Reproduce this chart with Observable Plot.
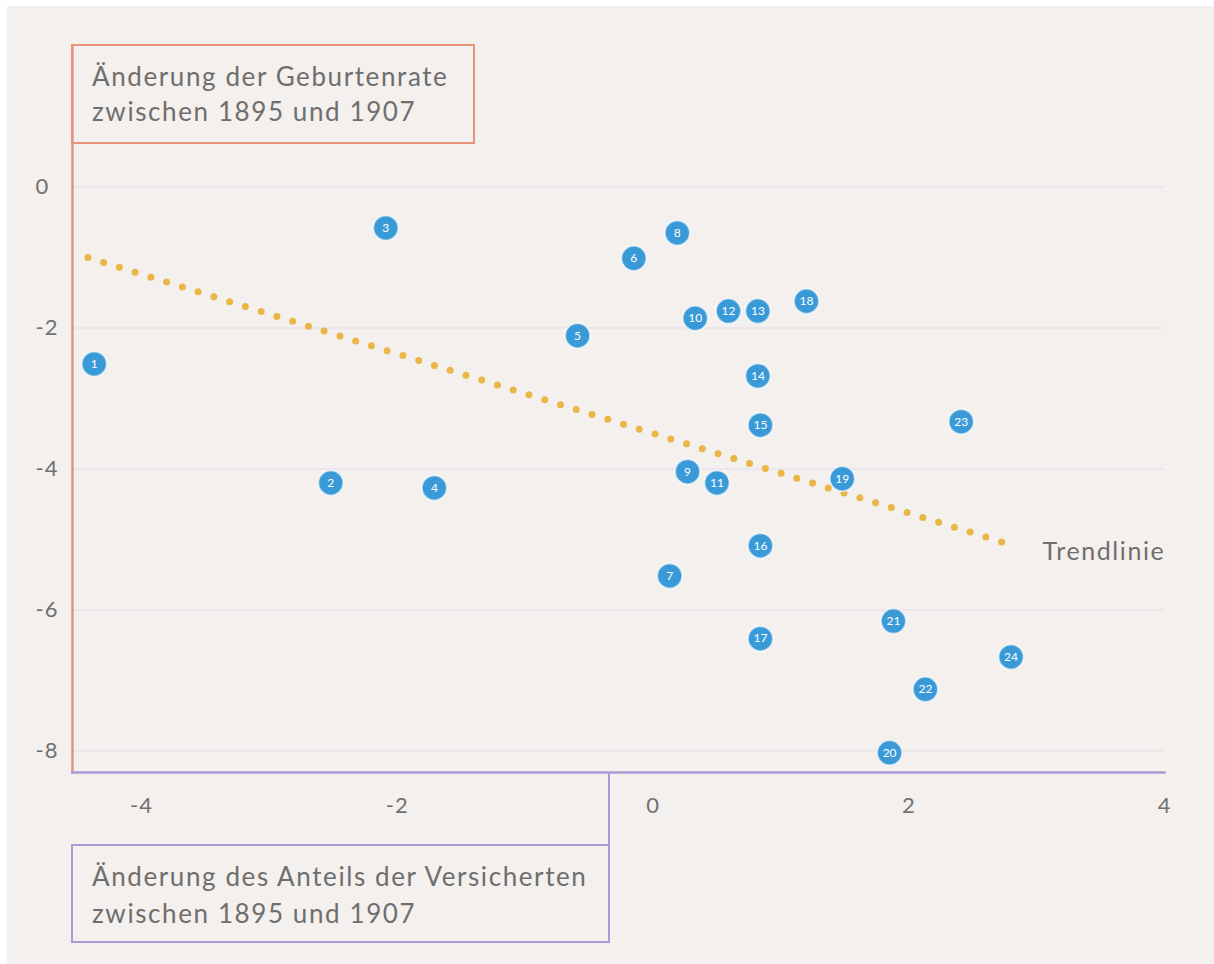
<!DOCTYPE html>
<html>
<head>
<meta charset="utf-8">
<script src="https://cdn.jsdelivr.net/npm/d3@7"></script>
<script src="https://cdn.jsdelivr.net/npm/@observablehq/plot@0.6"></script>
<style>
  html, body { margin: 0; padding: 0; background: #f4f0ed; }
  #wrap { position: absolute; left: 0; top: 0; width: 1214px; height: 964px; overflow: hidden; font-family: Lato, "Open Sans", sans-serif; }
  #wtop { position: absolute; left: 0; top: 0; width: 1214px; height: 6px; background: #ffffff; }
  #wleft { position: absolute; left: 0; top: 0; width: 7px; height: 964px; background: #ffffff; }
  #chart { position: absolute; left: 0; top: 0; }
  .box { position: absolute; box-sizing: border-box; color: #6e6e6e; font-size: 26px; letter-spacing: 1.6px; padding-left: 19px; white-space: nowrap; }
  #ybox { left: 71px; top: 44px; width: 404px; height: 100px; border: 2px solid #e8937c; line-height: 35px; padding-top: 13px; }
  #xbox { left: 71px; top: 844px; width: 539px; height: 99px; border: 2px solid #a79cd6; line-height: 37px; padding-top: 12px; }
  #xconn { position: absolute; left: 608px; top: 772px; width: 2px; height: 73px; background: #a79cd6; }
  #chart text { letter-spacing: 1px; }
</style>
</head>
<body>
<div id="wrap">
  <div id="wtop"></div>
  <div id="wleft"></div>
  <div id="chart"></div>
  <div id="xconn"></div>
  <div class="box" id="ybox">Änderung der Geburtenrate<br>zwischen 1895 und 1907</div>
  <div class="box" id="xbox">Änderung des Anteils der Versicherten<br>zwischen 1895 und 1907</div>
</div>
<script>
// Data
const ids = [1, 2, 3, 4, 5, 6, 7, 8, 9, 10, 11, 12, 13, 14, 15, 16, 17, 18, 19, 20, 21, 22, 23, 24];
const xValues = [-4.37, -2.52, -2.09, -1.71, -0.59, -0.15, 0.13, 0.19, 0.27, 0.33, 0.50, 0.59, 0.82, 0.82, 0.84, 0.84, 0.84, 1.20, 1.48, 1.85, 1.88, 2.13, 2.41, 2.80];
const yValues = [-2.51, -4.20, -0.58, -4.27, -2.11, -1.01, -5.52, -0.65, -4.04, -1.86, -4.20, -1.76, -1.76, -2.68, -3.38, -5.09, -6.41, -1.62, -4.14, -8.03, -6.16, -7.13, -3.33, -6.67];
const trendX = [-4.42, 2.82];
const trendY = [-1.0, -5.09];
const trendLabel = ["Trendlinie"];
const xTicks = [-4, -2, 0, 2, 4];
const yTicks = [0, -2, -4, -6, -8];

const points = ids.map((id, i) => ({id, x: xValues[i], y: yValues[i]}));
const trend = trendX.map((x, i) => ({x, y: trendY[i]}));
const trendEnd = [{x: trendX[1], y: trendY[1], label: trendLabel[0]}];

const chart = Plot.plot({
  width: 1214,
  height: 964,
  marginLeft: 72,
  marginRight: 50,
  marginTop: 45,
  marginBottom: 192,
  x: {domain: [-4.54, 4]},
  y: {domain: [-8.31, 2.01]},
  style: {background: "transparent", fontFamily: "Lato, 'Open Sans', sans-serif", fontSize: "22px", color: "#707070"},
  marks: [
    Plot.gridY(yTicks, {stroke: "#e8e3ec", strokeOpacity: 1, strokeWidth: 1.5}),
    Plot.frame({anchor: "left", stroke: "#e8937c", strokeWidth: 2.5}),
    Plot.frame({anchor: "bottom", stroke: "#a79cd6", strokeWidth: 2.5}),
    Plot.axisY(yTicks, {tickSize: 0, tickPadding: 0, textAnchor: "start", dx: -37, fontSize: 22, fill: "#707070", label: null, tickFormat: d => String(d)}),
    Plot.axisX(xTicks, {tickSize: 0, tickPadding: 25, fontSize: 22, fill: "#707070", label: null, tickFormat: d => String(d)}),
    Plot.line(trend, {x: "x", y: "y", stroke: "#eab646", strokeWidth: 7, strokeDasharray: "0 16.5", strokeLinecap: "round"}),
    Plot.text(trendEnd, {x: "x", y: "y", text: "label", textAnchor: "start", dx: 29, dy: 6, fontSize: 25, fill: "#6e6e6e"}),
    Plot.dot(points, {x: "x", y: "y", r: 12.5, fill: "#3a9ad8", stroke: "#ffffff", strokeOpacity: 0.6, strokeWidth: 2}),
    Plot.text(points, {x: "x", y: "y", text: "id", fill: "#ffffff", fontSize: 12})
  ]
});
chart.querySelectorAll("g[aria-label='text'] text").forEach(t => {
  if (/^\d+$/.test(t.textContent)) t.style.letterSpacing = "0px";
  if (t.textContent === trendLabel[0]) t.style.letterSpacing = "1.6px";
});
document.getElementById("chart").appendChild(chart);
</script>
</body>
</html>
